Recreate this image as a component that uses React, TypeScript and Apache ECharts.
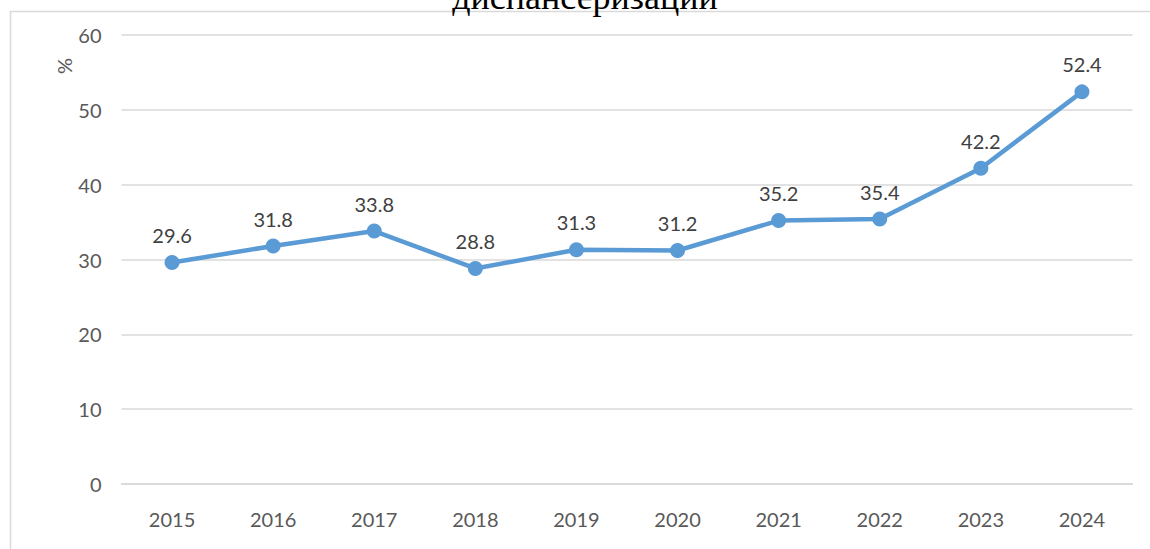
import React, { useEffect, useRef } from "react";
import * as echarts from "echarts";

const categories = ["2015", "2016", "2017", "2018", "2019", "2020", "2021", "2022", "2023", "2024"];
const values = [29.6, 31.8, 33.8, 28.8, 31.3, 31.2, 35.2, 35.4, 42.2, 52.4];
const titleText = "диспансеризации";
const yAxisName = "%";

export default function App() {
  const ref = useRef<HTMLDivElement>(null);
  useEffect(() => {
    document.body.style.margin = "0";
    const chart = echarts.init(ref.current!, null, { renderer: "svg" });
    chart.setOption({
      animation: false,
      backgroundColor: "#ffffff",
      grid: { left: 121.5, right: 17.5, top: 35, bottom: 65, containLabel: false },
      graphic: [
        {
          type: "rect",
          shape: { x: 10.5, y: 11.5, width: 1300, height: 700 },
          style: { fill: "none", stroke: "#d9d9d9", lineWidth: 1.5 },
          silent: true,
        },
        {
          type: "text",
          x: 585,
          y: 15,
          style: {
            text: titleText,
            font: "36px 'Liberation Serif', 'Times New Roman', serif",
            fill: "#000000",
            align: "center",
            verticalAlign: "bottom",
          },
        },
        {
          type: "text",
          x: 64,
          y: 66,
          rotation: Math.PI / 2,
          style: {
            text: yAxisName,
            font: "20px Lato",
            fill: "#595959",
            align: "center",
            verticalAlign: "middle",
          },
        },
      ],
      xAxis: {
        type: "category",
        data: categories,
        boundaryGap: true,
        axisLine: { show: true, lineStyle: { color: "#d9d9d9", width: 1.5 } },
        axisTick: { show: false },
        axisLabel: { color: "#595959", fontFamily: "Lato", fontSize: 20, margin: 25 },
      },
      yAxis: {
        type: "value",
        min: 0,
        max: 60,
        interval: 10,
        axisLine: { show: false },
        axisTick: { show: false },
        splitLine: { lineStyle: { color: "#d9d9d9", width: 1.5 } },
        axisLabel: { color: "#595959", fontFamily: "Lato", fontSize: 20, margin: 20 },
      },
      series: [
        {
          type: "line",
          data: values,
          symbol: "circle",
          symbolSize: 15,
          itemStyle: { color: "#5b9bd5" },
          lineStyle: { color: "#5b9bd5", width: 4.5 },
          label: {
            show: true,
            position: "top",
            distance: 10,
            color: "#404040",
            fontFamily: "Lato",
            fontSize: 20,
          },
        },
      ],
    });
    return () => chart.dispose();
  }, []);
  return <div ref={ref} style={{ width: 1150, height: 549 }} />;
}
